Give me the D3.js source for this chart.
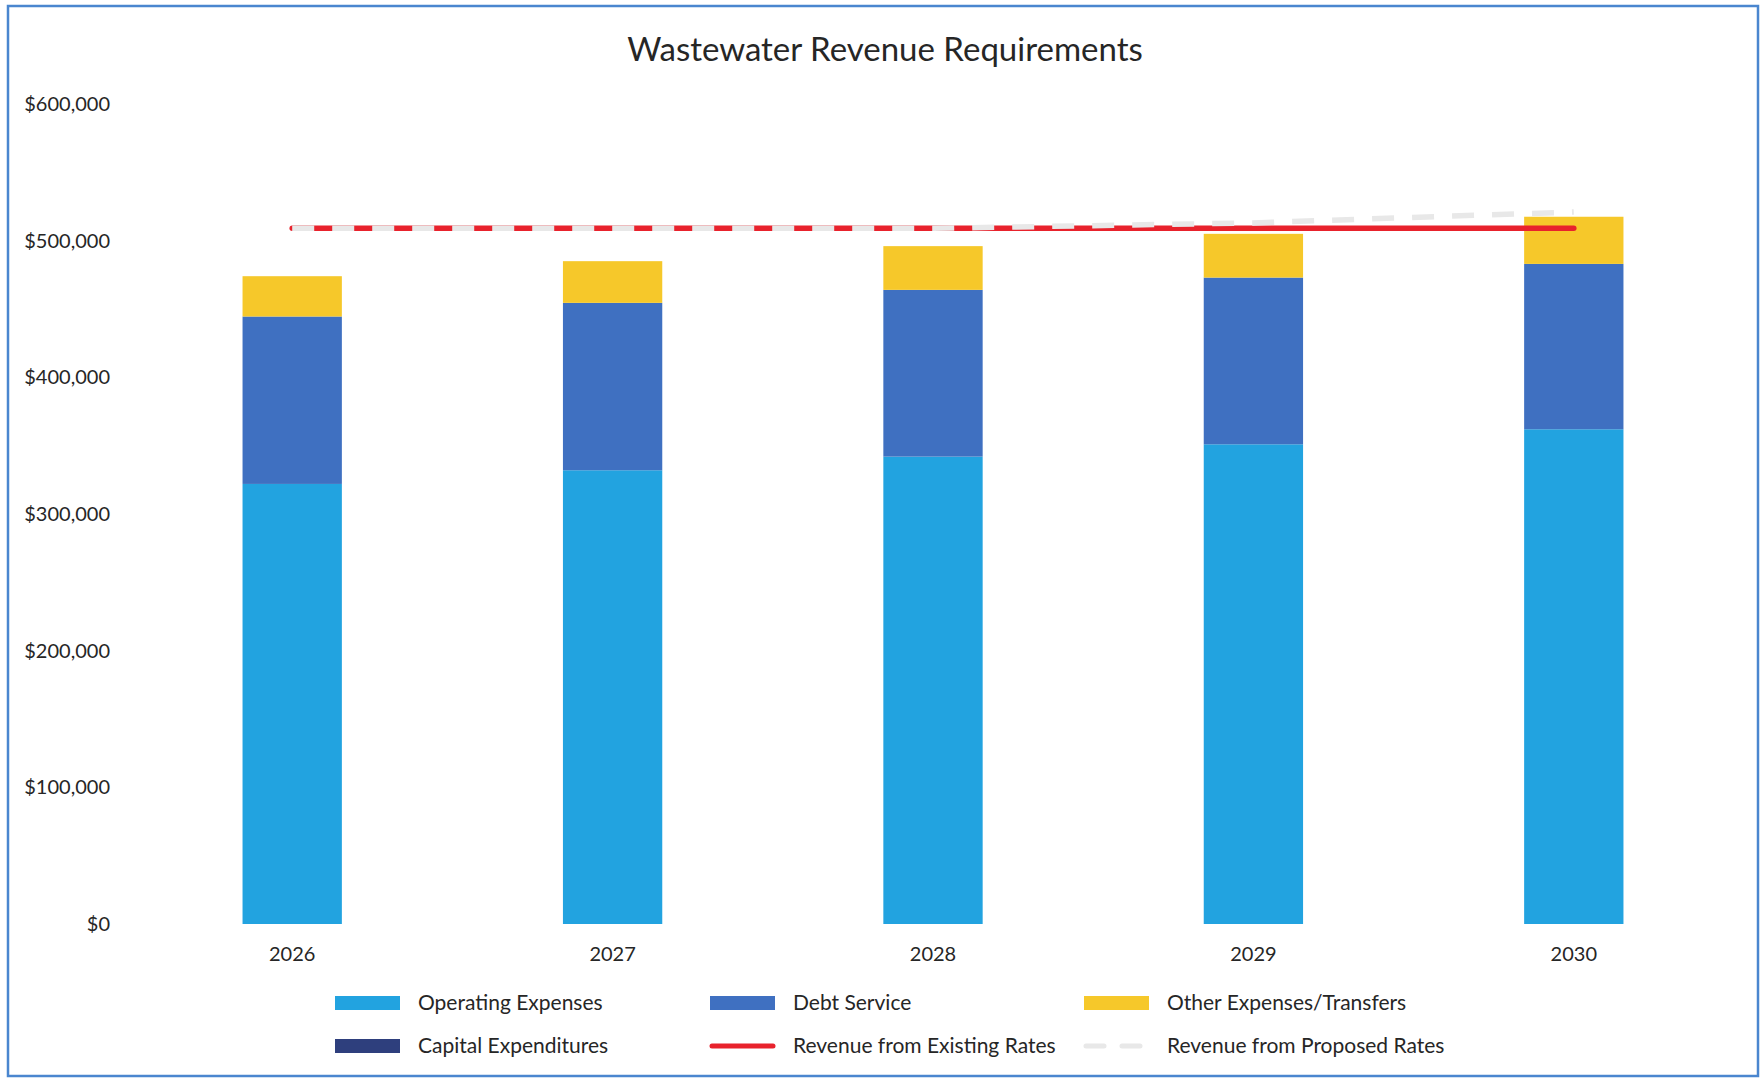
<!DOCTYPE html>
<html>
<head>
<meta charset="utf-8">
<title>Wastewater Revenue Requirements</title>
<script src="https://cdn.jsdelivr.net/npm/d3@7"></script>
<style>
	body { margin: 0; background: #fff; }
	text { font-family: Lato, "Open Sans", sans-serif; fill: #262626; }
</style>
</head>
<body>
<script>
// chart data
var years = ["2026", "2027", "2028", "2029", "2030"];
var operatingExpenses = [322000, 332000, 342000, 351000, 362000];
var debtService = [122500, 122500, 122000, 122000, 121000];
var capitalExpenditures = [0, 0, 0, 0, 0];
var otherExpenses = [29500, 30500, 32000, 32000, 34500];
var existingRates = [509000, 509000, 509000, 509000, 509000];
var proposedRates = [509000, 509000, 509000, 513000, 521000];
var yTicks = [0, 100000, 200000, 300000, 400000, 500000, 600000];

var seriesNames = ["Operating Expenses", "Debt Service", "Capital Expenditures", "Other Expenses/Transfers"];

var width = 1762,
	height = 1080,
	svg,
	x,
	y;

var colors = {
	"Operating Expenses" : "#22a3e0",
	"Debt Service" : "#3f70c1",
	"Capital Expenditures" : "#2e3f7d",
	"Other Expenses/Transfers" : "#f6c82a",
	"existing" : "#e8222c",
	"proposed" : "#e8e8e8"
};

function init() {
	svg = d3.select("body")
		.append("svg")
		.attr("width", width)
		.attr("height", height);

	// blue frame round the chart
	svg.append("rect")
		.attr("x", 8)
		.attr("y", 6)
		.attr("width", 1750)
		.attr("height", 1070)
		.attr("fill", "none")
		.attr("stroke", "#4a86cf")
		.attr("stroke-width", 2.5);

	svg.append("text")
		.attr("x", 885)
		.attr("y", 49)
		.attr("dy", "0.35em")
		.attr("text-anchor", "middle")
		.style("font-size", "33px")
		.text("Wastewater Revenue Requirements");

	x = d3.scaleBand()
		.domain(years)
		.range([132, 1734])
		.paddingInner(0.69)
		.paddingOuter(0.345);

	y = d3.scaleLinear()
		.domain([0, 600000])
		.range([924, 104]);

	drawAxes();
	drawBars();
	drawLines();
	drawLegend();
}

function drawAxes() {
	var yAxis = d3.axisLeft(y)
		.tickValues(yTicks)
		.tickSize(0)
		.tickPadding(0)
		.tickFormat(function(d) { return "$" + d3.format(",")(d); });

	svg.append("g")
		.attr("class", "y axis")
		.attr("transform", "translate(110,0)")
		.call(yAxis)
		.call(function(g) { g.select(".domain").remove(); })
		.selectAll("text")
		.style("font-size", "20px")
		.style("font-family", "Lato, sans-serif")
		.attr("fill", "#262626");

	var xAxis = d3.axisBottom(x)
		.tickSize(0)
		.tickPadding(0);

	svg.append("g")
		.attr("class", "x axis")
		.attr("transform", "translate(0,954)")
		.call(xAxis)
		.call(function(g) { g.select(".domain").remove(); })
		.selectAll("text")
		.attr("dy", "0.35em")
		.attr("y", 0)
		.style("font-size", "20px")
		.style("font-family", "Lato, sans-serif")
		.attr("fill", "#262626");
}

function drawBars() {
	var table = years.map(function(yr, i) {
		return {
			year : yr,
			"Operating Expenses" : operatingExpenses[i],
			"Debt Service" : debtService[i],
			"Capital Expenditures" : capitalExpenditures[i],
			"Other Expenses/Transfers" : otherExpenses[i]
		};
	});

	var stacked = d3.stack().keys(seriesNames)(table);

	svg.append("g")
		.selectAll("g")
		.data(stacked)
		.enter().append("g")
		.attr("fill", function(d) { return colors[d.key]; })
		.selectAll("rect")
		.data(function(d) { return d; })
		.enter().append("rect")
		.attr("x", function(d) { return x(d.data.year); })
		.attr("y", function(d) { return y(d[1]); })
		.attr("width", x.bandwidth())
		.attr("height", function(d) { return y(d[0]) - y(d[1]); });
}

function drawLines() {
	var line = d3.line()
		.x(function(d, i) { return x(years[i]) + x.bandwidth() / 2; })
		.y(function(d) { return y(d); });

	svg.append("path")
		.datum(existingRates)
		.attr("d", line)
		.attr("fill", "none")
		.attr("stroke", colors.existing)
		.attr("stroke-width", 5.5)
		.attr("stroke-linecap", "round");

	// proposed rates: pale dashes drawn over the red line
	svg.append("path")
		.datum(proposedRates)
		.attr("d", line)
		.attr("fill", "none")
		.attr("stroke", colors.proposed)
		.attr("stroke-width", 5.5)
		.attr("stroke-dasharray", "22,18");
}

function drawLegend() {
	var items = [
		{ name : "Operating Expenses", type : "rect", col : 0, row : 0 },
		{ name : "Debt Service", type : "rect", col : 1, row : 0 },
		{ name : "Other Expenses/Transfers", type : "rect", col : 2, row : 0 },
		{ name : "Capital Expenditures", type : "rect", col : 0, row : 1 },
		{ name : "Revenue from Existing Rates", type : "existing", col : 1, row : 1 },
		{ name : "Revenue from Proposed Rates", type : "proposed", col : 2, row : 1 }
	];
	var colX = [335, 710, 1084],
		rowY = [1003, 1046];

	var legend = svg.append("g").attr("class", "legend");

	var item = legend.selectAll("g")
		.data(items)
		.enter().append("g")
		.attr("transform", function(d) { return "translate(" + colX[d.col] + "," + rowY[d.row] + ")"; });

	item.filter(function(d) { return d.type == "rect"; })
		.append("rect")
		.attr("x", 0)
		.attr("y", -7)
		.attr("width", 65)
		.attr("height", 14)
		.attr("fill", function(d) { return colors[d.name]; });

	item.filter(function(d) { return d.type != "rect"; })
		.append("line")
		.attr("x1", 2)
		.attr("x2", 63)
		.attr("y1", 0)
		.attr("y2", 0)
		.attr("stroke", function(d) { return colors[d.type]; })
		.attr("stroke-width", 5)
		.attr("stroke-linecap", "round")
		.attr("stroke-dasharray", function(d) { return d.type == "proposed" ? "18,18" : null; });

	item.append("text")
		.attr("x", 83)
		.attr("y", 0)
		.attr("dy", "0.35em")
		.style("font-size", "21px")
		.text(function(d) { return d.name; });
}

window.onload = init;
</script>
</body>
</html>
